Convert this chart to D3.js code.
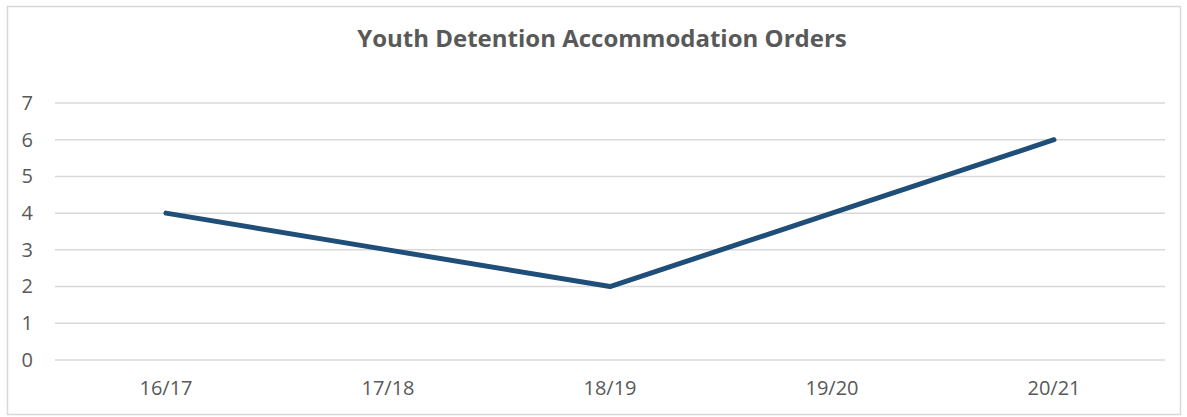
<!DOCTYPE html>
<html>
<head>
<meta charset="utf-8">
<script src="https://cdn.jsdelivr.net/npm/d3@7"></script>
<style>
  body { margin: 0; background: #fff; }
  text { font-family: "Open Sans", sans-serif; }
</style>
</head>
<body>
<div id="chart"></div>
<script>
// chart data
let categories = ["16/17", "17/18", "18/19", "19/20", "20/21"];
let orders = [4, 3, 2, 4, 6];
let yTicks = [0, 1, 2, 3, 4, 5, 6, 7];

let width = 1187, height = 417;
let margin = {top: 103, right: 22, bottom: 57, left: 55};

let svg = d3.select("#chart")
    .append("svg")
    .attr("width", width)
    .attr("height", height);

// outer frame
svg.append("rect")
    .attr("x", 7.5)
    .attr("y", 6.5)
    .attr("width", 1173)
    .attr("height", 408)
    .attr("fill", "none")
    .attr("stroke", "#d9d9d9")
    .attr("stroke-width", 1.5);

svg.append("text")
    .attr("x", 602)
    .attr("y", 47)
    .attr("text-anchor", "middle")
    .attr("font-size", "24px")
    .attr("font-weight", "bold")
    .attr("fill", "#595959")
    .text("Youth Detention Accommodation Orders");

let x = d3.scaleBand()
    .domain(categories)
    .range([margin.left, width - margin.right]);

let y = d3.scaleLinear()
    .domain([0, 7])
    .range([height - margin.bottom, margin.top]);

// gridlines
svg.append("g")
    .selectAll("line")
    .data(yTicks)
    .enter()
    .append("line")
    .attr("x1", margin.left)
    .attr("x2", width - margin.right)
    .attr("y1", d => y(d))
    .attr("y2", d => y(d))
    .attr("stroke", "#d9d9d9")
    .attr("stroke-width", 1.5);

// y labels
let yAxis = svg.append("g")
    .attr("transform", "translate(33,0)")
    .call(d3.axisLeft(y).tickValues(yTicks).tickFormat(d3.format("d")).tickSize(0).tickPadding(0));
yAxis.select(".domain").remove();
yAxis.selectAll("text")
    .attr("font-size", "20px")
    .attr("fill", "#595959")
    .style("font-family", "'Open Sans', sans-serif");

// x labels
let xAxis = svg.append("g")
    .attr("transform", "translate(0," + (height - margin.bottom) + ")")
    .call(d3.axisBottom(x).tickSize(0).tickPadding(21));
xAxis.select(".domain").remove();
xAxis.selectAll("text")
    .attr("font-size", "20px")
    .attr("fill", "#595959")
    .style("font-family", "'Open Sans', sans-serif");

let line = d3.line()
    .x((d, i) => x(categories[i]) + x.bandwidth() / 2)
    .y(d => y(d));

svg.append("path")
    .datum(orders)
    .attr("d", line)
    .attr("fill", "none")
    .attr("stroke", "#1f4e79")
    .attr("stroke-width", 5)
    .attr("stroke-linecap", "round")
    .attr("stroke-linejoin", "round");
</script>
</body>
</html>
